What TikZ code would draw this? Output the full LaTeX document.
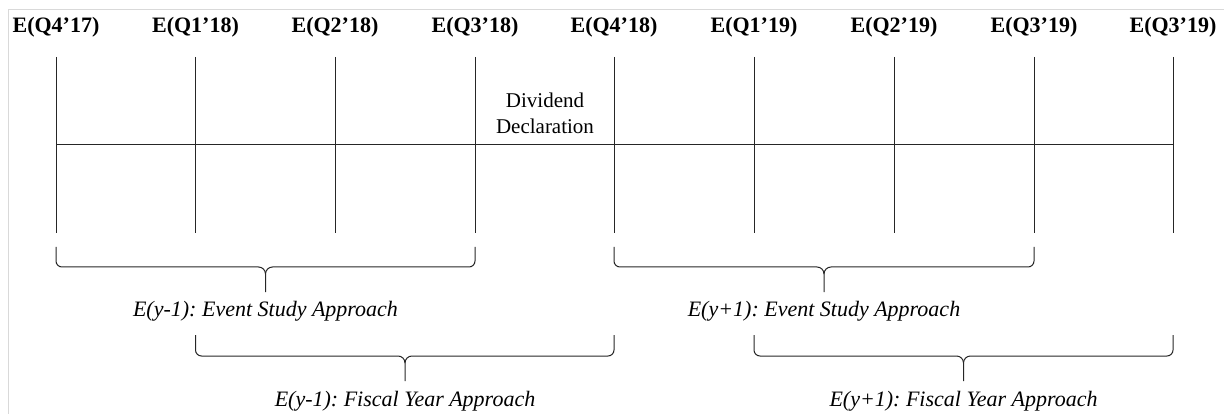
\documentclass[tikz,border=0pt]{standalone}
\usepackage{fontspec}
\setmainfont{Liberation Serif}
% #1 left x, #2 right x, #3 mid x, #4 top y, #5 bar y, #6 tip y
\newcommand\curlybr[6]{%
  \draw[ln] (#1,#4) -- (#1,#5-6) to[out=-90,in=180] (#1+6,#5) -- (#3-7,#5) to[out=0,in=90] (#3,#5+7) -- (#3,#6);
  \draw[ln] (#3,#5+7) to[out=90,in=180] (#3+7,#5) -- (#2-6,#5) to[out=0,in=-90] (#2,#5-6) -- (#2,#4);}
\begin{document}
\frenchspacing
\begin{tikzpicture}[x=1pt,y=-1pt,
  ln/.style={draw=black!85,line width=1pt},
  qlab/.style={font=\fontsize{22}{26}\selectfont\bfseries,inner sep=0pt},
  blab/.style={font=\fontsize{22}{26}\selectfont\itshape,inner sep=0pt},
  note/.style={font=\fontsize{21}{26}\selectfont,align=center,inner sep=0pt}]
\useasboundingbox (0,0) rectangle (1224,414);
\draw[black!15,line width=1pt] (8,414) -- (8,10) -- (1224,10);
\foreach \i/\x/\t in {1/56/E(Q4’17),2/195.5/E(Q1’18),3/335/E(Q2’18),4/475/E(Q3’18),5/614/E(Q4’18),6/754/E(Q1’19),7/894/E(Q2’19),8/1034/E(Q3’19),9/1173/E(Q3’19)}{
  \node[qlab] (q\i) at (\x,27) {\t};
  \coordinate (t\i) at (\x,57);
  \coordinate (b\i) at (\x,233);
  \draw[ln] (t\i) -- (b\i);
}
\coordinate (hl) at (56,145);
\coordinate (hr) at (1173,145);
\draw[ln] (hl) -- (hr);
\node[note] (div) at (545,113) {Dividend\\Declaration};
\curlybr{56}{475}{265.5}{247}{267}{292}
\curlybr{195.5}{614}{405}{335}{356}{381}
\curlybr{614}{1034}{824}{247}{267}{292}
\curlybr{754}{1173}{963.5}{335}{356}{381}
\node[blab] (l1) at (265.5,311) {E(y-1): Event Study Approach};
\node[blab] (l2) at (405,401) {E(y-1): Fiscal Year Approach};
\node[blab] (l3) at (824,311) {E(y+1): Event Study Approach};
\node[blab] (l4) at (963.5,401) {E(y+1): Fiscal Year Approach};
\end{tikzpicture}
\end{document}
